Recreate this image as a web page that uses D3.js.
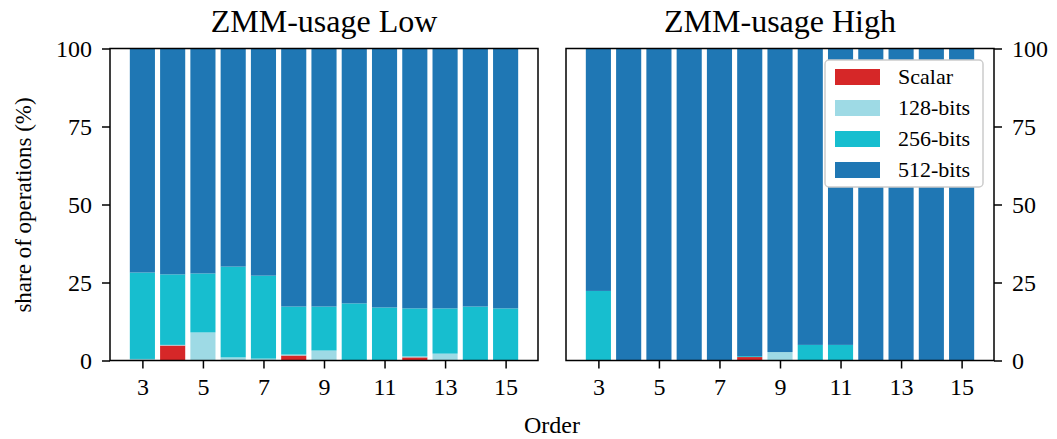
<!DOCTYPE html>
<html>
<head>
<meta charset="utf-8">
<script src="https://cdn.jsdelivr.net/npm/d3@7"></script>
<style>
  html, body { margin: 0; padding: 0; background: #fff; }
  svg { display: block; }
  text { font-family: "Liberation Serif", "DejaVu Serif", serif; fill: #000; }
</style>
</head>
<body>
<svg id="chart" width="1057" height="439"></svg>
<script>
const categories = [3, 4, 5, 6, 7, 8, 9, 10, 11, 12, 13, 14, 15];
const seriesNames = ["Scalar", "128-bits", "256-bits", "512-bits"];
const seriesColors = ["#d62728", "#9edae5", "#17becf", "#1f77b4"];

const lowScalar = [0, 4.8, 0, 0, 0, 1.6, 0, 0, 0, 1.0, 0, 0, 0];
const low128    = [0.5, 0.2, 9.0, 1.0, 0.6, 0.3, 3.2, 0, 0, 0.3, 2.2, 0, 0];
const low256    = [27.7, 22.6, 18.9, 29.1, 26.6, 15.4, 14.1, 18.3, 17.0, 15.4, 14.5, 17.3, 16.7];
const low512    = [71.8, 72.4, 72.1, 69.9, 72.8, 82.7, 82.7, 81.7, 83.0, 83.3, 83.3, 82.7, 83.3];

const highScalar = [0, 0, 0, 0, 0, 1.1, 0, 0, 0, 0, 0, 0, 0];
const high128    = [0, 0, 0, 0, 0, 0, 2.7, 0, 0, 0, 0, 0, 0];
const high256    = [22.3, 0, 0, 0, 0, 0.3, 0, 5.0, 5.0, 0, 0, 0, 0];
const high512    = [77.7, 100, 100, 100, 100, 98.6, 97.3, 95.0, 95.0, 100, 100, 100, 100];

const panelTitles = ["ZMM-usage Low", "ZMM-usage High"];
const xTicks = [3, 5, 7, 9, 11, 13, 15];
const yTicks = [0, 25, 50, 75, 100];

(function () {
const svg = d3.select("#chart");
const plotTop = 48.5, plotBottom = 360.5;
const panels = [
  { left: 110, right: 538, title: panelTitles[0], data: [lowScalar, low128, low256, low512], yAxisSide: "left" },
  { left: 566, right: 994, title: panelTitles[1], data: [highScalar, high128, high256, high512], yAxisSide: "right" }
];

const barWidth = 0.83;
const y = d3.scaleLinear().domain([0, 100]).range([plotBottom, plotTop]);

panels.forEach(p => {
  const x = d3.scaleLinear().domain([1.93, 16.07]).range([p.left, p.right]);
  const rows = categories.map((c, i) => {
    const o = { cat: c };
    seriesNames.forEach((s, k) => o[s] = p.data[k][i]);
    return o;
  });
  const stacked = d3.stack().keys(seriesNames)(rows);
  const g = svg.append("g");
  stacked.forEach((layer, k) => {
    g.selectAll(null).data(layer).enter().append("rect")
      .attr("x", d => x(d.data.cat - barWidth / 2))
      .attr("width", d => x(d.data.cat + barWidth / 2) - x(d.data.cat - barWidth / 2))
      .attr("y", d => y(d[1]))
      .attr("height", d => Math.max(0, y(d[0]) - y(d[1])))
      .attr("fill", seriesColors[k]);
  });

  g.append("rect").attr("x", p.left).attr("y", plotTop).attr("width", p.right - p.left)
    .attr("height", plotBottom - plotTop).attr("fill", "none").attr("stroke", "#000").attr("stroke-width", 1.5);

  const xAxis = d3.axisBottom(x).tickValues(xTicks).tickSize(8).tickPadding(9).tickFormat(d3.format("d"));
  const xg = svg.append("g").attr("transform", `translate(0,${plotBottom})`).call(xAxis);
  xg.select(".domain").remove();
  xg.selectAll(".tick line").attr("stroke", "#000").attr("stroke-width", 1.5);
  xg.selectAll(".tick text").attr("font-size", 24).attr("font-family", "Liberation Serif");

  const yAxis = (p.yAxisSide === "left" ? d3.axisLeft(y) : d3.axisRight(y))
    .tickValues(yTicks).tickSize(8).tickPadding(10).tickFormat(d3.format("d"));
  const yg = svg.append("g").attr("transform", `translate(${p.yAxisSide === "left" ? p.left : p.right},0)`).call(yAxis);
  yg.select(".domain").remove();
  yg.selectAll(".tick line").attr("stroke", "#000").attr("stroke-width", 1.5);
  yg.selectAll(".tick text").attr("font-size", 24).attr("font-family", "Liberation Serif");

  svg.append("text").attr("x", (p.left + p.right) / 2).attr("y", 32)
    .attr("text-anchor", "middle").attr("font-size", 32).text(p.title);
});

svg.append("text").attr("transform", "translate(31,205) rotate(-90)")
  .attr("text-anchor", "middle").attr("font-size", 23).text("share of operations (%)");
svg.append("text").attr("x", 552).attr("y", 433)
  .attr("text-anchor", "middle").attr("font-size", 24).text("Order");

const lg = svg.append("g");
lg.append("rect").attr("x", 825).attr("y", 60).attr("width", 158).attr("height", 127)
  .attr("rx", 4).attr("fill", "#fff").attr("stroke", "#cccccc").attr("stroke-width", 1.5);
seriesNames.forEach((s, k) => {
  const cy = 77 + k * 31;
  lg.append("rect").attr("x", 835).attr("y", cy - 8).attr("width", 45).attr("height", 16)
    .attr("fill", seriesColors[k]);
  lg.append("text").attr("x", 898).attr("y", cy + 7).attr("font-size", 22).text(s);
});
})();
</script>
</body>
</html>
